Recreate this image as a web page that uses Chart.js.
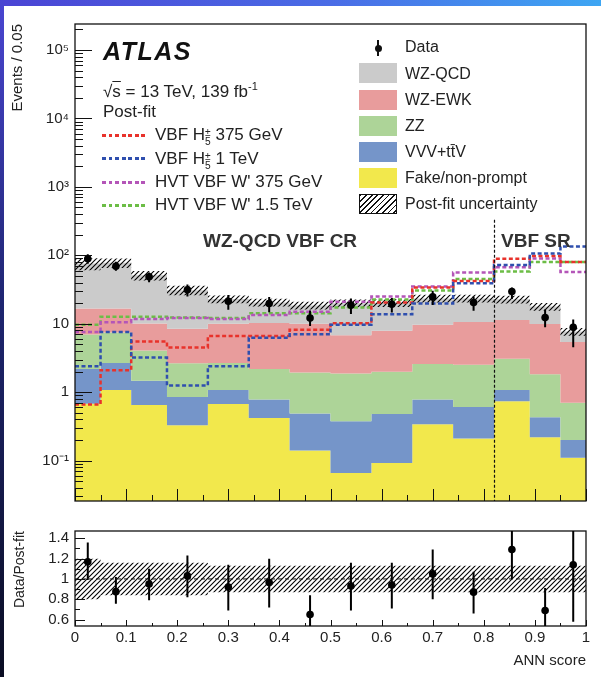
<!DOCTYPE html>
<html>
<head>
<meta charset="utf-8">
<script src="https://cdn.jsdelivr.net/npm/chart.js@4.4.1/dist/chart.umd.min.js"></script>
<style>
  html, body { margin: 0; padding: 0; }
  body { width: 601px; height: 677px; position: relative; overflow: hidden; background: #fff;
         font-family: "Liberation Sans", Arial, sans-serif; color: #222; }
  #topband { position: absolute; left: 0; top: 0; width: 601px; height: 6px;
             background: linear-gradient(90deg, #4b44d4, #4a6ce6 55%, #3ea6f3); }
  #leftband { position: absolute; left: 0; top: 0; width: 4px; height: 677px;
              background: linear-gradient(180deg, #4a46d2, #1e2570 45%, #0a0d22); }
  canvas { position: absolute; left: 0; }
  .t { position: absolute; white-space: nowrap; line-height: 1; }
  .leg { font-size: 16px; }
  .sig { font-size: 17px; }
  .sw { position: absolute; width: 38px; height: 20px; }
  .dash { position: absolute; width: 45px; height: 2.5px; }
  .ss { display: inline-block; font-size: 0.6em; line-height: 0.85; vertical-align: -0.45em; text-align: left; }
  .ss span { display: block; }
</style>
</head>
<body>
<div id="topband"></div>
<div id="leftband"></div>
<canvas id="mainChart" width="601" height="516" style="top:0"></canvas>
<canvas id="ratioChart" width="601" height="161" style="top:516px"></canvas>

<div class="t" style="left:103px; top:39px; font-size:25px; font-weight:bold; font-style:italic; letter-spacing:1.5px; color:#111">ATLAS</div>
<div class="t sig" style="left:103px; top:81px">&radic;<span style="text-decoration:overline">s</span> = 13 TeV, 139 fb<sup style="font-size:11px">-1</sup></div>
<div class="t sig" style="left:103px; top:103px">Post-fit</div>

<div class="dash" style="left:102px; top:134px; background:repeating-linear-gradient(90deg,#e8322b 0 4px,transparent 4px 6.5px)"></div>
<div class="t sig" style="left:155px; top:126px">VBF H<span class="ss"><span>&plusmn;</span><span>5</span></span> 375 GeV</div>
<div class="dash" style="left:102px; top:157px; background:repeating-linear-gradient(90deg,#2f4fae 0 4px,transparent 4px 6.5px)"></div>
<div class="t sig" style="left:155px; top:150px">VBF H<span class="ss"><span>&plusmn;</span><span>5</span></span> 1 TeV</div>
<div class="dash" style="left:102px; top:181px; background:repeating-linear-gradient(90deg,#b455b8 0 4px,transparent 4px 6.5px)"></div>
<div class="t sig" style="left:155px; top:173px">HVT VBF W' 375 GeV</div>
<div class="dash" style="left:102px; top:204px; background:repeating-linear-gradient(90deg,#6cbd46 0 4px,transparent 4px 6.5px)"></div>
<div class="t sig" style="left:155px; top:196px">HVT VBF W' 1.5 TeV</div>

<div style="position:absolute; left:377px; top:40px; width:2px; height:16px; background:#111"></div>
<div style="position:absolute; left:374.5px; top:44.5px; width:7px; height:7px; border-radius:50%; background:#111"></div>
<div class="t leg" style="left:405px; top:39px">Data</div>
<div class="sw" style="left:359px; top:63px; background:#cbcbcb"></div>
<div class="t leg" style="left:405px; top:66px">WZ-QCD</div>
<div class="sw" style="left:359px; top:90px; background:#e89c9c"></div>
<div class="t leg" style="left:405px; top:92px">WZ-EWK</div>
<div class="sw" style="left:359px; top:116px; background:#add498"></div>
<div class="t leg" style="left:405px; top:118px">ZZ</div>
<div class="sw" style="left:359px; top:142px; background:#7595c9"></div>
<div class="t leg" style="left:405px; top:144px">VVV+tt&#772;V</div>
<div class="sw" style="left:359px; top:168px; background:#f2e84c"></div>
<div class="t leg" style="left:405px; top:170px">Fake/non-prompt</div>
<div class="sw" style="left:359px; top:194px; box-sizing:border-box; border:1px solid #111; background:repeating-linear-gradient(135deg,#111 0 1.2px,#fff 1.2px 4px)"></div>
<div class="t leg" style="left:405px; top:196px">Post-fit uncertainty</div>

<div class="t" style="left:203px; top:231px; font-size:19px; font-weight:bold; color:#333">WZ-QCD VBF CR</div>
<div class="t" style="left:501px; top:231px; font-size:19px; font-weight:bold; color:#333">VBF SR</div>

<script>
// bin edges in ANN score (variable width)
const binEdges = [0, 0.05, 0.11, 0.18, 0.26, 0.34, 0.42, 0.5, 0.58, 0.66, 0.74, 0.82, 0.89, 0.95, 1.0];
const srBoundary = 0.82;

// post-fit backgrounds, events / 0.05 (stacked bottom to top)
const fakeNonPrompt = [0.68, 1.08, 0.65, 0.33, 0.67, 0.42, 0.14, 0.066, 0.092, 0.34, 0.21, 0.74, 0.22, 0.11];
const vvvTtv        = [1.5, 1.6, 0.82, 0.52, 0.41, 0.36, 0.35, 0.31, 0.39, 0.44, 0.40, 0.34, 0.21, 0.09];
const zzBkg         = [4.8, 4.8, 2.6, 1.8, 1.6, 1.4, 1.45, 1.5, 1.5, 1.8, 1.9, 2.0, 1.4, 0.5];
const wzEwk         = [9.7, 9.2, 6.0, 5.8, 7.3, 8.1, 8.1, 4.9, 5.9, 7.1, 8.1, 8.3, 8.1, 4.7];
const wzQcd         = [59, 61, 41, 22.5, 13, 10.2, 8.5, 13.2, 12.4, 13.8, 12.8, 11.4, 7.9, 2.3];
// relative post-fit uncertainty per bin
const postFitUnc    = [0.20, 0.16, 0.16, 0.16, 0.13, 0.13, 0.13, 0.13, 0.13, 0.13, 0.13, 0.13, 0.13, 0.13];

// signals (not stacked)
const sigH5_375  = [0.66, 2.1, 5.5, 4.5, 6.6, 6.6, 8.2, 10.2, 20.4, 34, 42, 89, 98, 80];
const sigH5_1TeV = [2.4, 7.6, 3.2, 1.25, 2.4, 6.25, 7.0, 9.7, 13.8, 19.8, 39, 72, 106, 135];
const sigHVT_375 = [7.6, 10.5, 11.7, 12.1, 11.7, 13.4, 15, 20.9, 25, 35, 56, 67, 90, 57];
const sigHVT_1p5 = [9.7, 12.7, 12.7, 12.3, 12.1, 14.2, 14.2, 17.3, 22.6, 30.6, 45, 58, 80, 80];

// data
const binCentres  = [0.025, 0.08, 0.145, 0.22, 0.30, 0.38, 0.46, 0.54, 0.62, 0.70, 0.78, 0.855, 0.92, 0.975];
const dataEvents  = [89, 69, 48.6, 31.3, 21.3, 19.8, 12.1, 18.7, 19.3, 24.7, 20.4, 29.6, 12.3, 8.9];
const ratioValues = [1.17, 0.875, 0.95, 1.03, 0.92, 0.965, 0.65, 0.93, 0.94, 1.05, 0.87, 1.29, 0.69, 1.14];
const ratioLow    = [0.99, 0.755, 0.79, 0.82, 0.69, 0.72, 0.50, 0.69, 0.71, 0.80, 0.66, 1.00, 0.50, 0.58];
const ratioHigh   = [1.36, 1.02, 1.10, 1.23, 1.14, 1.20, 0.84, 1.16, 1.16, 1.29, 1.07, 1.48, 0.91, 1.48];

// axis ticks
const logTickValues = [0.1, 1, 10, 100, 1000, 10000, 100000];
const logTickLabels = ['10\u207B\u00B9', '1', '10', '10\u00B2', '10\u00B3', '10\u2074', '10\u2075'];
const ratioTickValues = [0.6, 0.8, 1, 1.2, 1.4];
const ratioTickLabels = ['0.6', '0.8', '1', '1.2', '1.4'];
const xTickValues = [0, 0.1, 0.2, 0.3, 0.4, 0.5, 0.6, 0.7, 0.8, 0.9, 1];
const xTickLabels = ['0', '0.1', '0.2', '0.3', '0.4', '0.5', '0.6', '0.7', '0.8', '0.9', '1'];

const nBins = binCentres.length;

// histogram outline points: point i carries bin i, stepped 'before' holds it up to edge i+1
function steps(vals) {
    return binEdges.map((e, i) => ({x: e, y: vals[Math.min(i, nBins - 1)]}));
}

function makeHatch(ctx) {
    const c = document.createElement('canvas');
    c.width = 5; c.height = 5;
    const g = c.getContext('2d');
    g.strokeStyle = '#000';
    g.lineWidth = 1.1;
    g.beginPath();
    g.moveTo(0, 5); g.lineTo(5, 0);
    g.moveTo(-1, 1); g.lineTo(1, -1);
    g.moveTo(4, 6); g.lineTo(6, 4);
    g.stroke();
    return ctx.createPattern(c, 'repeat');
}

// inward ticks + frame, like the ROOT style
const frameTicks = {
    id: 'frameTicks',
    afterDatasetsDraw(chart, args, opts) {
        const {ctx, chartArea: a, scales: {x, y}} = chart;
        ctx.save();
        ctx.strokeStyle = '#111';
        ctx.lineWidth = 1;
        ctx.beginPath();
        opts.yTicks.forEach(([v, len]) => {
            const py = Math.round(y.getPixelForValue(v)) + 0.5;
            if (py < a.top || py > a.bottom) return;
            ctx.moveTo(a.left, py); ctx.lineTo(a.left + len, py);
        });
        opts.xTicks.forEach(([v, len]) => {
            const px = Math.round(x.getPixelForValue(v)) + 0.5;
            ctx.moveTo(px, a.bottom); ctx.lineTo(px, a.bottom - len);
        });
        ctx.stroke();
        if (opts.divider !== undefined) {
            const px = Math.round(x.getPixelForValue(opts.divider)) + 0.5;
            ctx.setLineDash([3, 2]);
            ctx.lineWidth = 1.2;
            ctx.beginPath();
            ctx.moveTo(px, y.getPixelForValue(opts.dividerTop));
            ctx.lineTo(px, a.bottom);
            ctx.stroke();
            ctx.setLineDash([]);
        }
        ctx.lineWidth = 1.3;
        ctx.strokeRect(a.left, a.top, a.right - a.left, a.bottom - a.top);
        ctx.restore();
    }
};

// vertical error bars on the data points
const errorBars = {
    id: 'errorBars',
    afterDatasetsDraw(chart, args, opts) {
        const {ctx, chartArea: a, scales: {x, y}} = chart;
        ctx.save();
        ctx.beginPath();
        ctx.rect(a.left, a.top, a.right - a.left, a.bottom - a.top);
        ctx.clip();
        ctx.strokeStyle = '#000';
        ctx.lineWidth = 2;
        ctx.beginPath();
        opts.xs.forEach((xv, i) => {
            const px = x.getPixelForValue(xv);
            ctx.moveTo(px, y.getPixelForValue(opts.lo[i]));
            ctx.lineTo(px, y.getPixelForValue(opts.hi[i]));
        });
        ctx.stroke();
        ctx.restore();
    }
};

// minor tick lists
const logMinor = [];
for (let k = -2; k <= 5; k++) {
    for (let m = 2; m <= 9; m++) logMinor.push(m * Math.pow(10, k));
}
const xMinor = [0.05, 0.15, 0.25, 0.35, 0.45, 0.55, 0.65, 0.75, 0.85, 0.95];

// cumulative stack
let run = new Array(nBins).fill(0);
const cumul = [fakeNonPrompt, vvvTtv, zzBkg, wzEwk, wzQcd].map(l => (run = run.map((r, i) => r + l[i])));
const totalBkg = cumul[4];
const uncLow = totalBkg.map((t, i) => t * (1 - postFitUnc[i]));
const uncHigh = totalBkg.map((t, i) => t * (1 + postFitUnc[i]));
const dataLow = dataEvents.map((d, i) => d * ratioLow[i] / ratioValues[i]);
const dataHigh = dataEvents.map((d, i) => d * ratioHigh[i] / ratioValues[i]);

const mainCtx = document.getElementById('mainChart').getContext('2d');
const hatchMain = makeHatch(mainCtx);
const fillColors = ['#f2e84c', '#7595c9', '#add498', '#e89c9c', '#cbcbcb'];

function fillSet(vals, color, fill, order) {
    return {data: steps(vals), stepped: 'before', borderWidth: 0, pointRadius: 0,
            backgroundColor: color, borderColor: 'transparent', fill: fill, order: order};
}
function sigSet(vals, color, order) {
    return {data: steps(vals), stepped: 'before', borderWidth: 2.5, borderDash: [4, 2.5],
            borderColor: color, pointRadius: 0, fill: false, order: order};
}

const fontBase = {family: '"Liberation Sans", Arial, sans-serif', size: 15};

new Chart(mainCtx, {
    type: 'line',
    data: {
        datasets: [
            fillSet(cumul[0], fillColors[0], 'start', 20),
            fillSet(cumul[1], fillColors[1], '-1', 19),
            fillSet(cumul[2], fillColors[2], '-1', 18),
            fillSet(cumul[3], fillColors[3], '-1', 17),
            fillSet(cumul[4], fillColors[4], '-1', 16),
            fillSet(uncLow, 'transparent', false, 15),
            fillSet(uncHigh, hatchMain, '-1', 14),
            sigSet(sigHVT_1p5, '#6cbd46', 8),
            sigSet(sigHVT_375, '#b455b8', 7),
            sigSet(sigH5_375, '#e8322b', 6),
            sigSet(sigH5_1TeV, '#2f4fae', 5),
            {data: binCentres.map((c, i) => ({x: c, y: dataEvents[i]})), showLine: false,
             pointRadius: 3.8, pointBackgroundColor: '#000', pointBorderWidth: 0, order: 1}
        ]
    },
    options: {
        responsive: false,
        animation: false,
        events: [],
        layout: {padding: {top: 24, right: 15, bottom: 4, left: 0}},
        plugins: {
            legend: {display: false},
            tooltip: {enabled: false},
            frameTicks: {
                yTicks: logTickValues.map(v => [v, 17]).concat(logMinor.map(v => [v, 8])),
                xTicks: xTickValues.map(v => [v, 12]).concat(xMinor.map(v => [v, 6])),
                divider: srBoundary,
                dividerTop: 330
            },
            errorBars: {xs: binCentres, lo: dataLow, hi: dataHigh}
        },
        scales: {
            x: {type: 'linear', min: 0, max: 1, display: false},
            y: {
                type: 'logarithmic', min: 0.0257, max: 2.4e5,
                afterFit: s => { s.width = 75; },
                afterBuildTicks: s => { s.ticks = logTickValues.map(v => ({value: v})); },
                grid: {display: false, drawTicks: false},
                border: {display: false},
                ticks: {autoSkip: false, padding: 6, color: '#222', font: fontBase,
                        callback: (v, i) => logTickLabels[i]},
                title: {display: true, text: 'Events / 0.05', align: 'end', color: '#222',
                        font: {family: fontBase.family, size: 15}, padding: {top: 9, bottom: 0}}
            }
        }
    },
    plugins: [frameTicks, errorBars]
});

const ratioCtx = document.getElementById('ratioChart').getContext('2d');
const hatchRatio = makeHatch(ratioCtx);
const ratioMinor = [0.7, 0.9, 1.1, 1.3];

new Chart(ratioCtx, {
    type: 'line',
    data: {
        datasets: [
            fillSet(postFitUnc.map(u => 1 - u), 'transparent', false, 10),
            fillSet(postFitUnc.map(u => 1 + u), hatchRatio, '-1', 9),
            {data: [{x: 0, y: 1}, {x: 1, y: 1}], borderColor: '#111', borderWidth: 1,
             borderDash: [4, 3], pointRadius: 0, fill: false, order: 5},
            {data: binCentres.map((c, i) => ({x: c, y: ratioValues[i]})), showLine: false,
             pointRadius: 3.8, pointBackgroundColor: '#000', pointBorderWidth: 0, order: 1}
        ]
    },
    options: {
        responsive: false,
        animation: false,
        events: [],
        layout: {padding: {top: 6, right: 15, bottom: 0, left: 0}},
        plugins: {
            legend: {display: false},
            tooltip: {enabled: false},
            frameTicks: {
                yTicks: ratioTickValues.map(v => [v, 10]).concat(ratioMinor.map(v => [v, 5])),
                xTicks: xTickValues.map(v => [v, 6]).concat(xMinor.map(v => [v, 3]))
            },
            errorBars: {xs: binCentres, lo: ratioLow, hi: ratioHigh}
        },
        scales: {
            x: {
                type: 'linear', min: 0, max: 1,
                afterFit: s => { s.height = 51; },
                afterBuildTicks: s => { s.ticks = xTickValues.map(v => ({value: v})); },
                grid: {display: false, drawTicks: false},
                border: {display: false},
                ticks: {autoSkip: false, maxRotation: 0, padding: 3, color: '#222', font: fontBase,
                        callback: (v, i) => xTickLabels[i]},
                title: {display: true, text: 'ANN score', align: 'end', color: '#222',
                        font: {family: fontBase.family, size: 15}, padding: {top: 0, bottom: 7}}
            },
            y: {
                type: 'linear', min: 0.537, max: 1.472,
                afterFit: s => { s.width = 75; },
                afterBuildTicks: s => { s.ticks = ratioTickValues.map(v => ({value: v})); },
                grid: {display: false, drawTicks: false},
                border: {display: false},
                ticks: {autoSkip: false, padding: 6, color: '#222', font: fontBase,
                        callback: (v, i) => ratioTickLabels[i]},
                title: {display: true, text: 'Data/Post-fit', align: 'end', color: '#222',
                        font: {family: fontBase.family, size: 14}, padding: {top: 12, bottom: 0}}
            }
        }
    },
    plugins: [frameTicks, errorBars]
});
</script>
</body>
</html>
